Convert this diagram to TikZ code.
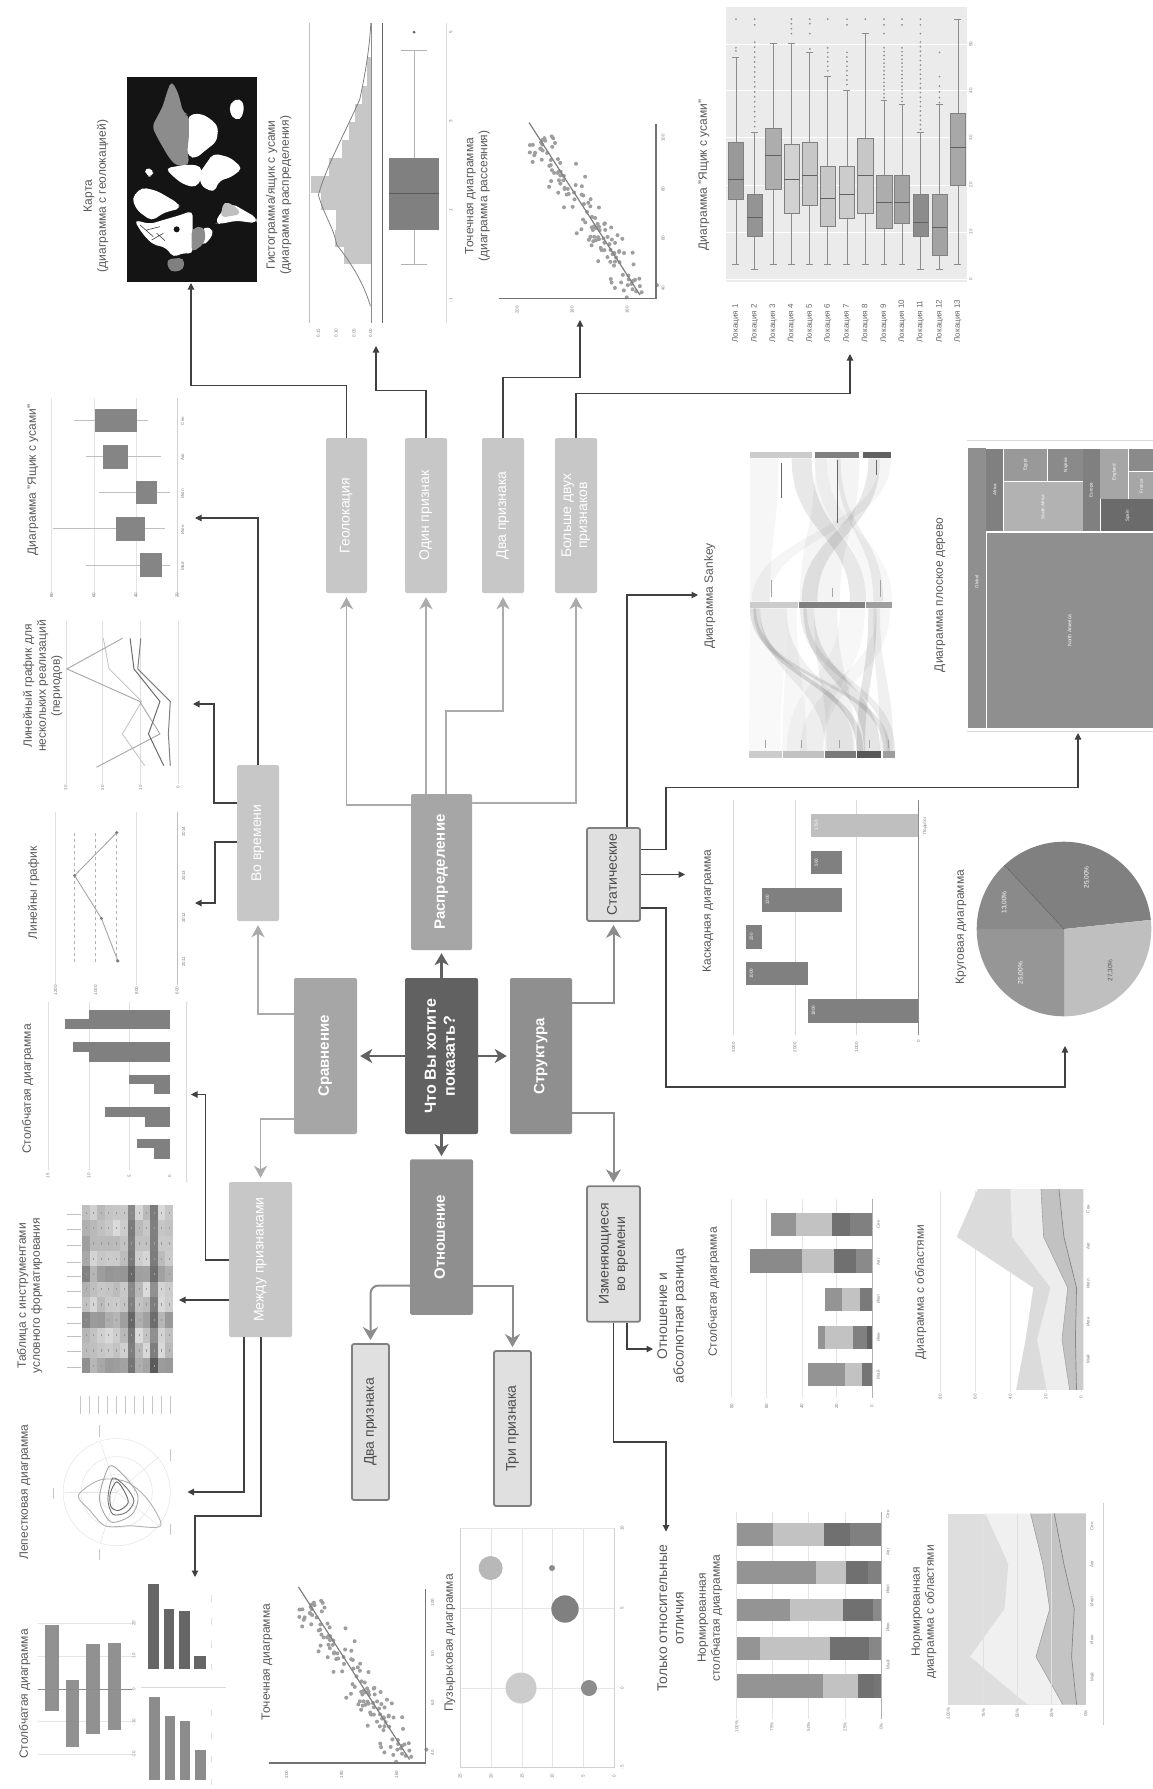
\documentclass[tikz,border=0pt]{standalone}
\usepackage{fontspec}
\setmainfont{Liberation Sans}
\usetikzlibrary{arrows.meta}
\newcommand\rtx[1]{\rotatebox{90}{\begin{tabular}{@{}c@{}}#1\end{tabular}}}
\newcount\tkn
\newcommand\tkl[3]{\global\advance\tkn by 1 \node[ticktext] (tk\the\tkn) at (#1,#2) {\rotatebox{90}{#3}};}
\newcommand\sband[8]{\fill[black,opacity=#8] (#2,#4) .. controls (#2,#1) and (#5,#1) .. (#5,#7) -- (#6,#7) .. controls (#6,#1) and (#3,#1) .. (#3,#4) -- cycle;}
\newcommand\scatterchart[3]{%
\begin{scope}[shift={(#1,#2)}]
\pgfmathsetseed{11}
\foreach \i in {1,...,130}{
  \pgfmathsetmacro\tt{0.1+0.9*rnd}
  \pgfmathsetmacro\nn{(rnd+rnd-1)*20}
  \fill[black!38] (529+111*\tt+\nn,122.5+172.5*\tt-\nn*0.4) circle (2);
}
\draw[black!50,line width=1.2] (529,122.5) -- (640,295);
\draw[black!55,line width=1.3] (499,298.5) -- (656,298.5) -- (656,124);
\tkl{517}{310}{200}\tkl{572}{310}{180}\tkl{627}{310}{160}
\tkl{663}{138}{100}\tkl{663}{189}{80}\tkl{663}{238}{60}\tkl{663}{288}{40}
\end{scope}}
\tikzset{
 zA/.style={shift={(0,0)},x=.3827pt,y=-.3827pt},
 zB/.style={shift={(553,0)},x=.3827pt,y=-.3827pt},
 zC/.style={shift={(0,600)},x=.3827pt,y=-.3827pt},
 zD/.style={shift={(553,600)},x=.3827pt,y=-.3827pt},
 zE/.style={shift={(0,1189)},x=.3827pt,y=-.3827pt},
 zF/.style={shift={(553,1189)},x=.3827pt,y=-.3827pt},
 zM/.style={shift={(120,70)},x=.3333pt,y=-.3333pt},
 zS/.style={shift={(740,440)},x=.3333pt,y=-.3333pt},
 ticktext/.style={inner sep=0,text=black!50,font=\fontsize{4.5}{5}\selectfont},
 titletext/.style={inner sep=0,text=black!65,font=\fontsize{12}{14}\selectfont},
 bigtext/.style={inner sep=0,text=black!65,font=\fontsize{14}{16.5}\selectfont},
 boxbase/.style={rounded corners=2pt,inner sep=0,align=center,text=white},
 pale/.style={boxbase,fill=black!22,font=\fontsize{14}{16}\selectfont},
 mid/.style={boxbase,fill=black!35,font=\bfseries\fontsize{15}{17}\selectfont},
 midd/.style={boxbase,fill=black!44,font=\bfseries\fontsize{15}{17}\selectfont},
 darkb/.style={boxbase,fill=black!62,font=\bfseries\fontsize{16}{19}\selectfont},
 lightb/.style={boxbase,fill=black!12,draw=black!50,line width=1.8pt,text=black!70,font=\fontsize{14}{16.5}\selectfont},
 cG/.style={draw=black!33,line width=1.8pt,-{Stealth[length=12pt,width=13pt,inset=3.5pt]},shorten >=4pt},
 cS/.style={draw=black!45,line width=2pt,-{Stealth[length=13pt,width=15pt,inset=4pt]},shorten >=3pt},
 cD/.style={draw=black!62,line width=2.4pt,-{Stealth[length=12pt,width=14pt,inset=3.5pt]},shorten >=3pt},
 cK/.style={draw=black!68,line width=1.1pt,-{Triangle[length=6.5pt,width=6.5pt]},black!75},
}
\begin{document}
\begin{tikzpicture}[x=1pt,y=-1pt]
\useasboundingbox[fill=white] (0,0) rectangle (1153,1789);
%% ---------- map
\begin{scope}[zM]
\fill[black!92] (20,22) rectangle (410,635);
\begin{scope}[rounded corners=5pt]
\fill[white] (205,135)--(240,130)--(270,145)--(295,170)--(290,215)--(260,238)--(228,265)--(205,260)--(198,230)--(203,200)--cycle;
\fill[black!45] (155,32)--(175,70)--(190,130)--(207,135)--(207,200)--(202,240)--(208,285)--(170,288)--(148,265)--(116,210)--(96,170)--(128,110)--(143,60)--cycle;
\fill[white] (328,100)--(360,83)--(374,110)--(362,152)--(333,142)--cycle;
\fill[white] (238,310)--(280,250)--(330,262)--(368,295)--(333,322)--(298,332)--(282,368)--(243,348)--cycle;
\fill[white] (136,295)--(175,288)--(205,283)--(243,288)--(248,320)--(228,353)--(190,343)--(162,322)--cycle;
\fill[white] (73,293)--(102,298)--(97,322)--(78,317)--cycle;
\fill[white] (35,385)--(65,352)--(110,362)--(172,398)--(183,415)--(132,428)--(95,453)--(52,422)--cycle;
\fill[white] (42,450)--(90,462)--(140,447)--(175,437)--(218,422)--(218,553)--(190,548)--(160,563)--(138,533)--(98,523)--(68,492)--cycle;
\fill[white] (250,468)--(283,480)--(268,512)--(245,528)--cycle;
\fill[black!45] (215,475)--(250,468)--(257,495)--(252,522)--(215,548)--cycle;
\fill[black!50] (138,568)--(192,563)--(192,600)--(150,607)--cycle;
\fill[white] (335,400)--(410,443)--(410,460)--(350,452)--(300,462)--(285,460)--(300,430)--cycle;
\fill[black!25] (312,393)--(345,408)--(365,432)--(335,438)--(300,443)--cycle;
\end{scope}
\fill[black!92] (170,478) circle (9);
\draw[black!75,line width=.6] (60,465)--(100,500) (80,480)--(120,470) (110,490)--(135,512) (95,510)--(130,490);
\end{scope}
\node[titletext] (tMap) at (96,196) {\rtx{Карта\\(диаграмма с геолокацией)}};
%% ---------- histogram / box
\begin{scope}[zA]
\draw[black!25,line width=.6] (808,60) -- (808,845);
\foreach \a/\b/\l in {645/690/900,600/645/875,550/600/878,505/550/840,460/505/812,412/460/860,365/412/893,318/365/912,272/318/928,225/272/945,150/225/960}
  \fill[black!22] (\l,\a) rectangle (970,\b);
\draw[black!50,line width=.8] (968,800) .. controls (950,740) and (920,690) .. (880,640) .. controls (870,590) and (850,570) .. (832,510) .. controls (850,440) and (900,350) .. (940,260) .. controls (955,190) and (965,130) .. (969,60);
\draw[black!45,line width=.9] (970,60) -- (970,845);
\draw[black!60,line width=1] (1000,60) -- (1000,845);
\draw[black!15,line width=.6] (1165,60) -- (1165,845);
\draw[black!30,line width=1] (1082,133) -- (1082,690) (1048,133) -- (1115,133) (1048,690) -- (1115,690);
\fill[black!50] (1017,412) rectangle (1147,600);
\draw[black!65,line width=.7] (1017,505) -- (1147,505);
\fill[black!60] (1082,84) circle (4);
\tkl{832}{870}{0.15}\tkl{878}{870}{0.10}\tkl{925}{870}{0.05}\tkl{968}{870}{0.00}
\tkl{1178}{84}{5}\tkl{1178}{318}{3}\tkl{1178}{550}{1}\tkl{1178}{785}{-1}
\end{scope}
\node[titletext] (tHist) at (279,195) {\rtx{Гистограмма/ящик с усами\\(диаграмма распределения)}};
%% ---------- scatter
\scatterchart{0}{0}{1}
\scatterchart{-230.5}{1464.5}{2}
\node[titletext] (tScat) at (477.5,196) {\rtx{Точечная диаграмма\\(диаграмма рассеяния)}};
\node[titletext] (tScat2) at (267,1662) {\rtx{Точечная диаграмма}};
%% ---------- big boxplot
\begin{scope}[zB]
\fill[black!8] (453,18) rectangle (1083,737);
\foreach \y/\t in {115/50,237/40,360/30,483/20,606/10,729/0}{\draw[white,line width=.7] (453,\y)--(1083,\y);\tkl{1092}{\y}{\t}}
\foreach \x/\wt/\bt/\m/\bb/\wb/\s in {478/150/372/470/520/690/40,527/347/507/568/618/705/42,575/113/335/407/494/690/32,623/113/378/470/557/690/18,671/137/372/457/535/690/22,718/200/434/518/592/690/22,768/236/434/508/570/690/20,816/88/360/458/557/690/22,865/262/457/530/595/690/32,912/272/457/530/582/690/36,960/347/507/580/618/705/45,1010/272/507/594/668/705/36,1058/50/297/384/484/690/34}{
 \draw[black!45,line width=.8] (\x,\wt)--(\x,\wb) (\x-9,\wt)--(\x+9,\wt) (\x-9,\wb)--(\x+9,\wb);
 \fill[black!\s,draw=black!50,line width=.4] (\x-20,\bt) rectangle (\x+20,\bb);
 \draw[black!62,line width=.8] (\x-20,\m)--(\x+20,\m);
}
\foreach \x/\l in {478/{50,125,133},527/{50,65,110,123,...,340},623/{50,62,75,88},671/{50,62,88,128},718/{50,125,137,...,195},768/{50,65,137,149,...,230},816/{50},865/{50,65,88,125,135,...,255},912/{50,65,125,135,...,265},960/{50,65,88,110,122,...,340},1010/{137,200,225,240,255,268}}
 \foreach \y in \l {\fill[black!45] (\x,\y) circle (2.5);}
\foreach \x/\n in {478/1,527/2,575/3,623/4,671/5,718/6,768/7,816/8,865/9,912/10,960/11,1010/12,1058/13}
 \node[inner sep=0,text=black!60,font=\fontsize{8}{9}\selectfont,anchor=south] (loc\n) at (\x,895) {\rotatebox{90}{Локация \n}};
\end{scope}
\node[titletext] (tBigBox) at (704,175) {\rtx{Диаграмма "Ящик с усами"}};
%% ---------- sankey
\begin{scope}[zS]
\sband{280}{30}{115}{55}{30}{90}{485}{.035}
\sband{280}{155}{215}{55}{330}{378}{485}{.09}
\sband{280}{225}{270}{55}{180}{230}{485}{.04}
\sband{280}{270}{358}{55}{230}{300}{485}{.045}
\sband{280}{385}{420}{55}{185}{232}{485}{.09}
\sband{280}{420}{453}{55}{35}{88}{485}{.04}
\sband{280}{290}{302}{55}{400}{430}{485}{.06}
\sband{280}{225}{260}{55}{378}{456}{485}{.03}
\sband{720}{40}{60}{505}{350}{370}{933}{.12}
\sband{720}{60}{140}{505}{256}{340}{933}{.06}
\sband{720}{30}{48}{505}{430}{450}{933}{.1}
\sband{720}{30}{140}{505}{27}{120}{933}{.025}
\sband{720}{140}{170}{505}{128}{200}{933}{.03}
\sband{720}{190}{222}{505}{372}{420}{933}{.1}
\sband{720}{222}{292}{505}{260}{345}{933}{.05}
\sband{720}{180}{200}{505}{440}{465}{933}{.07}
\sband{720}{300}{375}{505}{140}{250}{933}{.03}
\sband{720}{385}{410}{505}{350}{375}{933}{.1}
\sband{720}{410}{450}{505}{180}{250}{933}{.035}
\sband{720}{400}{420}{505}{420}{460}{933}{.06}
\foreach \a/\b/\s in {30/215/20,225/358/50,368/453/62}\fill[black!\s] (\a,35) rectangle (\b,55);
\foreach \a/\b/\s in {30/175/20,178/375/50,378/456/38}\fill[black!\s] (\a,485) rectangle (\b,505);
\foreach \a/\b/\s in {27/125/20,128/253/24,256/347/52,352/423/66,430/465/38}\fill[black!\s] (\a,933) rectangle (\b,953);
\draw[black!60,line width=.7] (125,70)--(125,175) (293,60)--(293,250) (410,60)--(410,105);
\draw[black!35,line width=.6] (95,420)--(95,470) (278,445)--(278,470) (422,420)--(422,470);
\foreach \x in {75,185,298,388,445}\draw[black!35,line width=.6] (\x,900)--(\x,925);
\end{scope}
\node[titletext] (tSankey) at (710,596) {\rtx{Диаграмма Sankey}};
%% ---------- treemap
\fill[black!44] (967.5,448) rectangle (986,728);
\fill[black!44] (987,532.5) rectangle (1153,728);
\begin{scope}[zB]
\fill[black!50] (1132,1172) rectangle (1176,1388);
\fill[black!40] (1178,1172) rectangle (1292,1258);
\fill[black!46] (1294,1172) rectangle (1384,1258);
\fill[black!30] (1178,1260) rectangle (1384,1388);
\fill[black!50] (1386,1172) rectangle (1428,1388);
\fill[black!35] (1430,1172) rectangle (1503,1303);
\fill[black!46] (1505,1172) rectangle (1601,1230);
\fill[black!35] (1505,1232) rectangle (1601,1303);
\fill[black!58] (1432,1305) rectangle (1601,1388);
\draw[black!15,line width=.5] (1083,1150) -- (1601,1150);
\foreach \x/\y/\t in {1107/1520/Global,1154/1280/Africa,1235/1215/Egypt,1340/1215/Nigeria,1280/1325/South Africa,1407/1280/Europe,1467/1235/England,1537/1270/France,1502/1348/Spain}
 {\global\advance\tkn by 1 \node[inner sep=0,text=white,font=\fontsize{4.5}{5}\selectfont] (tk\the\tkn) at (\x,\y) {\rotatebox{90}{\t}};}
\end{scope}
\begin{scope}[zD]
\node[inner sep=0,text=white,font=\fontsize{5}{6}\selectfont] (tNA) at (1350,80) {\rotatebox{90}{North America}};
\draw[black!15,line width=.5] (1083,342) -- (1568,342);
\end{scope}
\node[titletext] (tTree) at (940,595) {\rtx{Диаграмма плоское дерево}};
%% ---------- waterfall
\begin{scope}[zD]
\foreach \x in {472,632,793}\draw[black!15,line width=.5] (\x,522)--(\x,1137);
\fill[black!50] (666,1042) rectangle (955,1105);
\fill[black!25] (674,558) rectangle (955,620);
\fill[black!50] (504,945) rectangle (666,1007);
\fill[black!50] (504,849) rectangle (545,912);
\fill[black!50] (546,752) rectangle (754,815);
\fill[black!50] (674,655) rectangle (754,717);
\draw[black!45,line width=1] (955,522)--(955,1137);
\foreach \x/\y/\t in {680/1073/1800,518/976/1000,518/880/250,560/783/1300,688/686/500,688/589/1750}
 {\global\advance\tkn by 1 \node[inner sep=0,text=white,font=\fontsize{4.5}{5}\selectfont] (tk\the\tkn) at (\x,\y) {\rotatebox{90}{\t}};}
\tkl{472}{1168}{3000}\tkl{632}{1168}{2000}\tkl{793}{1168}{1000}\tkl{955}{1152}{0}\tkl{972}{590}{Подытог}
\end{scope}
\node[titletext] (tCasc) at (708,911) {\rtx{Каскадная диаграмма}};
%% ---------- pie
\begin{scope}[shift={(1064,929)}]
\fill[black!50] (0,0) -- (-133:87.3) arc[start angle=-133,end angle=-6,radius=87.3] -- cycle;
\fill[black!25] (0,0) -- (-6:87.3) arc[start angle=-6,end angle=90,radius=87.3] -- cycle;
\fill[black!41] (0,0) -- (90:87.3) arc[start angle=90,end angle=180,radius=87.3] -- cycle;
\fill[black!46] (0,0) -- (180:87.3) arc[start angle=180,end angle=227,radius=87.3] -- cycle;
\draw[black!65,line width=.4] (0,0) -- (-133:87.3);
\end{scope}
\begin{scope}[zD]
\foreach \x/\y/\t/\c in {1395/725/25{,}00\%/white,1180/790/13{,}00\%/white,1457/968/27{,}30\%/black!65,1222/975/25{,}00\%/white}
 {\global\advance\tkn by 1 \node[inner sep=0,text=\c,font=\fontsize{6.5}{7}\selectfont] (tk\the\tkn) at (\x,\y) {\rotatebox{90}{\t}};}
\end{scope}
\node[titletext] (tPie) at (961,927) {\rtx{Круговая диаграмма}};
%% ---------- left box plot
\begin{scope}[zA]
\foreach \x in {135,245,355}\draw[black!10,line width=.5] (\x,1040)--(\x,1560);
\draw[black!18,line width=.6] (463,1040)--(463,1560);
\foreach \w/\v/\a/\b/\c/\d in {193/388/247/357/1068/1130,225/420/268/335/1162/1225,258/443/355/411/1256/1318,138/432/302/379/1350/1413,225/443/367/422/1445/1508}{
 \draw[black!25,line width=.8] (\w,\c/2+\d/2)--(\v,\c/2+\d/2);
 \fill[black!48] (\a,\c) rectangle (\b,\d);
}
\tkl{477}{1100}{Сен}\tkl{477}{1195}{Авг}\tkl{477}{1290}{Июл}\tkl{477}{1385}{Июн}\tkl{477}{1480}{Май}
\tkl{135}{1555}{80}\tkl{245}{1555}{60}\tkl{355}{1555}{40}\tkl{463}{1555}{20}
\end{scope}
\node[titletext] (tBox2) at (33,480) {\rtx{Диаграмма "Ящик с усами"}};
%% ---------- line charts, bars
\begin{scope}[zC]
\foreach \x in {172,268,367,465}\draw[black!12,line width=.5] (\x,55)--(\x,480);
\draw[black!22,line width=.9] (378,433)--(320,350)--(370,265)--(285,180)--(270,100);
\draw[black!35,line width=.9] (252,437)--(418,350)--(365,265)--(175,180)--(320,100);
\draw[black!58,line width=1] (428,433)--(388,350)--(418,265)--(350,180)--(340,100);
\draw[black!50,line width=1] (445,433)--(440,350)--(445,265)--(360,180)--(368,100);
\tkl{172}{490}{30}\tkl{268}{490}{20}\tkl{367}{490}{10}\tkl{465}{490}{0}
\foreach \x in {145,357}\draw[black!12,line width=.5] (\x,555)--(\x,1005);
\draw[black!25,line width=.5] (463,555)--(463,1005);
\foreach \x in {195,250,305}\draw[black!30,line width=.6,dashed] (\x,610)--(\x,945);
\draw[black!35,line width=.9] (308,943)--(265,832)--(195,720)--(305,608);
\foreach \x/\y in {308/943,265/832,195/720,305/608}\fill[black!50] (\x,\y) circle (4.5);
\tkl{145}{1020}{1200}\tkl{250}{1020}{1000}\tkl{357}{1020}{800}\tkl{463}{1020}{600}
\tkl{480}{605}{2014}\tkl{480}{720}{2013}\tkl{480}{830}{2012}\tkl{480}{945}{2011}
\foreach \x in {125,232,338}\draw[black!12,line width=.5] (\x,1050)--(\x,1490);
\draw[black!15,line width=.5] (487,1050)--(487,1520);
\foreach \a/\b/\l in {1432/1460/402,1408/1433/358,1350/1377/380,1325/1350/274,1265/1292/402,1240/1265/338,1180/1207/233,1155/1180/190,1095/1122/170,1070/1095/233}
 \fill[black!50] (\l,\a) rectangle (443,\b);
\tkl{125}{1505}{15}\tkl{232}{1505}{10}\tkl{338}{1505}{5}\tkl{443}{1505}{0}
\end{scope}
\node[titletext] (tCol1) at (28,1089) {\rtx{Столбчатая диаграмма}};
\node[titletext] (tLine) at (34,893) {\rtx{Линейны график}};
\node[titletext] (tLineM) at (43,686) {\rtx{Линейный график для\\нескольких реализаций\\(периодов)}};
%% ---------- heat table, radar, bars
\begin{scope}[zE]
\pgfmathsetseed{3}
\foreach \hr in {0,...,10} \foreach \hc in {0,...,11}{
 \pgfmathsetmacro\v{14+rnd*14+((\hc==6||\hc==9)?26:0)+((\hr==4||\hr==7||\hr==10)?14:0)+(\hc==0?10:0)}
 \fill[black!\v] (215+\hc*19.75,42+\hr*40) rectangle (215+\hc*19.75+19.75,42+\hr*40+40);
 \fill[black!40] (215+\hc*19.75+9,42+\hr*40+17) rectangle (215+\hc*19.75+11,42+\hr*40+23);
}
\foreach \y in {65,105,148,190,228,268,310,350,385,425,465}\draw[black!25,line width=.4] (175,\y)--(212,\y);
\foreach \x in {210,233,256,280,303,327,350,374,397,421,445}\draw[black!22,line width=.4] (\x,540)--(\x,588);
\foreach \r in {47,93,140}\draw[black!10,line width=.5] (305,792) circle (\r);
\foreach \x/\y in {170/792,262/660,415/700,415/880,262/925}\draw[black!10,line width=.5] (305,792)--(\x,\y);
\draw[black!30,line width=.9] plot[smooth cycle] coordinates {(205,800) (262,760) (330,765) (385,810) (420,880) (340,880) (275,880) (235,840)};
\draw[black!35,line width=.9] plot[smooth cycle] coordinates {(285,725) (320,745) (360,800) (345,850) (290,870) (260,810)};
\draw[black!55,line width=.9] plot[smooth cycle] coordinates {(295,755) (330,780) (350,815) (330,845) (295,850) (282,810)};
\draw[black!60,line width=.9] plot[smooth cycle] coordinates {(305,765) (325,790) (335,820) (310,840) (290,830) (288,795)};
\foreach \x/\y in {258/632,445/695,445/890,258/955,140/795}\draw[black!22,line width=.4] (\x,\y-15)--(\x,\y+15);
%% bars
\foreach \y in {1135,1220,1392,1478}\draw[black!10,line width=.5] (98,\y)--(345,\y);
\draw[black!30,line width=.6] (98,1307)--(345,1307);
\foreach \a/\b/\c/\d in {117/153/1140/1363,172/206/1282/1458,226/262/1190/1423,281/316/1187/1413}\fill[black!45,opacity=.95] (\a,\c) rectangle (\b,\d);
\draw[black!45,line width=.4] (98,1307)--(345,1307);
\tkl{350}{1135}{20}\tkl{350}{1220}{10}\tkl{350}{1307}{0}\tkl{350}{1392}{-10}\tkl{350}{1478}{-20}
\draw[black!15,line width=.5] (368,1303)--(590,1303);
\foreach \a/\b/\c/\d in {388/415/1033/1253,428/455/1097/1253,468/497/1102/1253,508/537/1220/1253}\fill[black!60] (\a,\c) rectangle (\b,\d);
\foreach \a/\b/\c/\d in {390/417/1328/1545,430/457/1378/1545,470/497/1390/1545,510/537/1465/1545}\fill[black!45] (\a,\c) rectangle (\b,\d);
\foreach \y in {1070,1130,1190,1250,1370,1430,1490,1550}\draw[black!12,line width=.4] (552,\y-8)--(552,\y+8);
\end{scope}
\node[titletext] (tHeat) at (30,1296) {\rtx{Таблица с инструментами\\условного форматирования}};
\node[titletext] (tRadar) at (25,1492) {\rtx{Лепестковая диаграмма}};
\node[titletext] (tCol2) at (25,1694) {\rtx{Столбчатая диаграмма}};
%% ---------- bubble
\foreach \x in {491,522,552,583}\draw[black!10,line width=.5] (\x,1528)--(\x,1768);
\foreach \y in {1528,1608,1688.4}\draw[black!10,line width=.5] (460,\y)--(614,\y);
\draw[black!18,line width=.6] (460,1528)--(460,1767.6)--(614,1767.6)--(614,1528);
\fill[black!28] (490.6,1568) circle (12);
\fill[black!45] (552,1568) circle (3);
\fill[black!50] (565,1609) circle (13.7);
\fill[black!20] (521,1688) circle (15.5);
\fill[black!45] (589,1688) circle (8);
\tkl{460}{1776}{25}\tkl{491}{1776}{20}\tkl{522}{1776}{15}\tkl{552}{1776}{10}\tkl{583}{1776}{5}\tkl{614}{1776}{0}
\tkl{622}{1528}{10}\tkl{622}{1608}{5}\tkl{622}{1688}{0}\tkl{622}{1767}{-5}
\node[titletext] (tBub) at (450,1643) {\rtx{Пузырьковая диаграмма}};
%% ---------- stacked charts
\begin{scope}[zF]
\foreach \x in {467,558,650,741}\draw[black!10,line width=.5] (\x,25)--(\x,545);
\foreach \c/\d/\a/\b/\s in {62/123/775/833/50,62/123/730/775/56,62/123/635/730/24,62/123/570/635/42,
158/220/792/833/46,158/220/733/792/56,158/220/651/733/24,158/220/515/651/46,
258/318/802/833/52,258/318/754/802/24,258/318/712/754/42,
357/417/820/833/62,357/417/783/820/50,357/417/712/783/24,357/417/693/712/42,
455/515/807/833/54,455/515/763/807/24,455/515/666/763/42}
 \fill[black!\s] (\a,\c) rectangle (\b,\d);
\draw[black!30,line width=.5] (833,25)--(833,545);
\tkl{467}{568}{80}\tkl{558}{568}{60}\tkl{650}{568}{40}\tkl{741}{568}{20}\tkl{833}{568}{0}
\foreach \y/\t in {92/Сен,190/Авг,288/Июл,387/Июн,485/Май}{\tkl{850}{\y}{\t}\tkl{875}{\y+758}{\t}\tkl{1408}{\y+790}{\t}\tkl{1398}{\y-40}{\t}}
\foreach \x in {480,572,668,763}\draw[black!10,line width=.5] (\x,845)--(\x,1385);
\foreach \c/\d/\a/\b/\s in {873/933/775/858/50,873/933/708/775/56,873/933/575/708/24,873/933/480/575/42,
972/1032/822/858/50,972/1032/766/822/56,972/1032/688/766/24,972/1032/480/688/42,
1070/1130/835/858/46,1070/1130/758/835/56,1070/1130/618/758/24,1070/1130/480/618/42,
1170/1230/825/858/47,1170/1230/725/825/56,1170/1230/540/725/24,1170/1230/480/540/42,
1268/1330/838/858/54,1268/1330/796/838/56,1268/1330/706/796/24,1268/1330/480/706/42}
 \fill[black!\s] (\a,\c) rectangle (\b,\d);
\draw[black!30,line width=.5] (858,845)--(858,1385);
\tkl{480}{1405}{100\%}\tkl{572}{1405}{75\%}\tkl{668}{1405}{50\%}\tkl{763}{1405}{25\%}\tkl{858}{1405}{0\%}
%% area
\foreach \x in {1012,1103,1195,1288,1380}\draw[black!10,line width=.5] (\x,5)--(\x,530);
\fill[black!14] (1210,525)--(1235,393)--(1255,258)--(1055,125)--(1110,0)--(1385,0)--(1385,525)--cycle;
\fill[black!7] (1290,525)--(1265,393)--(1300,258)--(1200,125)--(1195,0)--(1385,0)--(1385,525)--cycle;
\fill[black!24] (1350,525)--(1330,393)--(1345,258)--(1282,125)--(1275,0)--(1385,0)--(1385,525)--cycle;
\fill[black!20] (1368,525)--(1365,393)--(1368,258)--(1335,125)--(1322,0)--(1385,0)--(1385,525)--cycle;
\draw[black!35,line width=.6] (1350,525)--(1330,393)--(1345,258)--(1282,125)--(1275,0);
\draw[black!48,line width=.7] (1368,525)--(1365,393)--(1368,258)--(1335,125)--(1322,0);
\tkl{1012}{543}{80}\tkl{1103}{543}{60}\tkl{1195}{543}{40}\tkl{1288}{543}{20}\tkl{1380}{543}{0}
%% normalized area
\fill[black!13] (1033,848) rectangle (1392,1347);
\fill[black!6] (1240,1347)--(1090,1222)--(1180,1097)--(1190,980)--(1130,848)--(1392,848)--(1392,1347)--cycle;
\fill[black!23] (1332,1347)--(1262,1222)--(1298,1097)--(1280,980)--(1248,848)--(1392,848)--(1392,1347)--cycle;
\fill[black!21] (1368,1347)--(1355,1222)--(1362,1097)--(1335,980)--(1310,848)--(1392,848)--(1392,1347)--cycle;
\draw[black!38,line width=.6] (1332,1347)--(1262,1222)--(1298,1097)--(1280,980)--(1248,848);
\draw[black!48,line width=.7] (1368,1347)--(1355,1222)--(1362,1097)--(1335,980)--(1310,848);
\draw[black!12,line width=.4] (1125,848)--(1125,1347) (1213,848)--(1213,1347) (1303,848)--(1303,1347);
\draw[black!18,line width=.5] (1438,820)--(1438,1400);
\tkl{1033}{1370}{100\%}\tkl{1125}{1370}{75\%}\tkl{1213}{1370}{50\%}\tkl{1303}{1370}{25\%}\tkl{1392}{1370}{0\%}
\end{scope}
\node[titletext] (tCol3) at (714,1292) {\rtx{Столбчатая диаграмма}};
\node[titletext] (tArea) at (921,1292) {\rtx{Диаграмма с областями}};
\node[titletext] (tNormC) at (710,1618) {\rtx{Нормированная\\столбчатая диаграмма}};
\node[titletext] (tNormA) at (924,1612) {\rtx{Нормированная\\диаграмма с областями}};
\node[bigtext] (tAbs) at (672,1316) {\rtx{Отношение и\\абсолютная разница}};
\node[bigtext] (tRel) at (672,1618) {\rtx{Только относительные\\отличия}};
%% ---------- main nodes
\node[pale,minimum width=41pt,minimum height=155pt] (geo) at (346.5,515.5) {\rtx{Геолокация}};
\node[pale,minimum width=42pt,minimum height=155pt] (one) at (426,515.5) {\rtx{Один признак}};
\node[pale,minimum width=42pt,minimum height=155pt] (two) at (503,515.5) {\rtx{Два признака}};
\node[pale,minimum width=42pt,minimum height=155pt] (more) at (576,515.5) {\rtx{Больше двух\\признаков}};
\node[pale,minimum width=42pt,minimum height=156pt] (vovr) at (258,843) {\rtx{Во времени}};
\node[mid,minimum width=61pt,minimum height=156pt] (raspr) at (441.5,872) {\rtx{Распределение}};
\node[mid,minimum width=63pt,minimum height=156pt] (srav) at (325.5,1056) {\rtx{Сравнение}};
\node[darkb,minimum width=73pt,minimum height=156pt] (chto) at (441.5,1056) {\rtx{Что Вы хотите\\показать?}};
\node[midd,minimum width=62pt,minimum height=156pt] (struct) at (541,1056) {\rtx{Структура}};
\node[midd,minimum width=63pt,minimum height=155.5pt] (otn) at (441.5,1237) {\rtx{Отношение}};
\node[pale,minimum width=63pt,minimum height=155pt] (mezh) at (260.5,1259.5) {\rtx{Между признаками}};
\node[lightb,minimum width=53pt,minimum height=93pt] (stat) at (613.5,874.5) {\rtx{Статические}};
\node[lightb,minimum width=53pt,minimum height=135.5pt] (izm) at (613.5,1254) {\rtx{Изменяющиеся\\во времени}};
\node[lightb,minimum width=37pt,minimum height=156pt] (dva2) at (370.5,1422) {\rtx{Два признака}};
\node[lightb,minimum width=37pt,minimum height=155pt] (tri) at (512.5,1428.5) {\rtx{Три признака}};
%% ---------- free ends
\coordinate (eMap) at (191,283);
\coordinate (eHist) at (376,346);
\coordinate (eScat) at (580,320);
\coordinate (eBox) at (850,354);
\coordinate (eVbox) at (195,518);
\coordinate (eLineM) at (193,704);
\coordinate (eLine) at (195,903);
\coordinate (eSankey) at (698,595);
\coordinate (eCasc) at (685,874.5);
\coordinate (eTree) at (1078,733);
\coordinate (ePie) at (1065,1046);
\coordinate (eAbs) at (653,1349);
\coordinate (eRel) at (666,1531.5);
\coordinate (eBar) at (191,1094.5);
\coordinate (eHeat) at (179,1300);
\coordinate (eRadar) at (187.5,1492);
\coordinate (eBars) at (195,1577);
%% ---------- connectors
\draw[cG] (raspr.west |- 0,805) -| (geo.south);
\draw[cG] (one.south |- raspr.north) -- (one.south);
\draw[cG] (raspr.north -| 446,0) -- (446,711) -| (two.south);
\draw[cG] (raspr.east |- 0,803) -| (more.south);
\draw[cK] (geo.north) -- ++(0,-52) -| (eMap);
\draw[cK] (one.north) -- ++(0,-47) -| (eHist);
\draw[cK] (two.north) -- ++(0,-60) -| (eScat);
\draw[cK] (more.north) -- ++(0,-44) -| (eBox);
\draw[cK] (vovr.north) |- (eVbox);
\draw[cK] (vovr.west |- 0,803) -- (214,803) |- (eLineM);
\draw[cK] (vovr.west |- 0,842) -- (215,842) |- (eLine);
\draw[cG] (srav.west |- 0,1014) -| (vovr.south);
\draw[cG] (srav.west |- 0,1118.6) -| (mezh.north);
\draw[cD] (chto.west) -- (srav.east);
\draw[cD] (chto.north) -- (raspr.south);
\draw[cD] (chto.east) -- (struct.west);
\draw[cD] (chto.south) -- (otn.north);
\draw[cS] (struct.east |- 0,1003) -| (stat.south);
\draw[cS] (struct.east |- 0,1113) -| (izm.north);
\draw[cK] (stat.north -| 627,0) |- (eSankey);
\draw[cK] (stat.east) -- (eCasc);
\draw[cK] (stat.east |- 0,849.5) -- (666,849.5) -- (666,787.5) -| (eTree);
\draw[cK] (stat.east |- 0,908) -- (666,908) -- (666,1087) -| (ePie);
\draw[cK] (izm.south -| 627,0) |- (eAbs);
\draw[cK] (izm.south) -- (613.5,1442) -| (eRel);
\draw[cS,rounded corners=8pt] (otn.west |- 0,1285.5) -| (dva2.north);
\draw[cS] (otn.east |- 0,1285.5) -| (tri.north);
\draw[cK] (mezh.west |- 0,1260) -- (205.5,1260) |- (eBar);
\draw[cK] (mezh.west |- 0,1300) -- (eHeat);
\draw[cK] (mezh.south -| 244,0) |- (eRadar);
\draw[cK] (mezh.south -| 261,0) -- (261,1516) -| (eBars);
\end{tikzpicture}
\end{document}
